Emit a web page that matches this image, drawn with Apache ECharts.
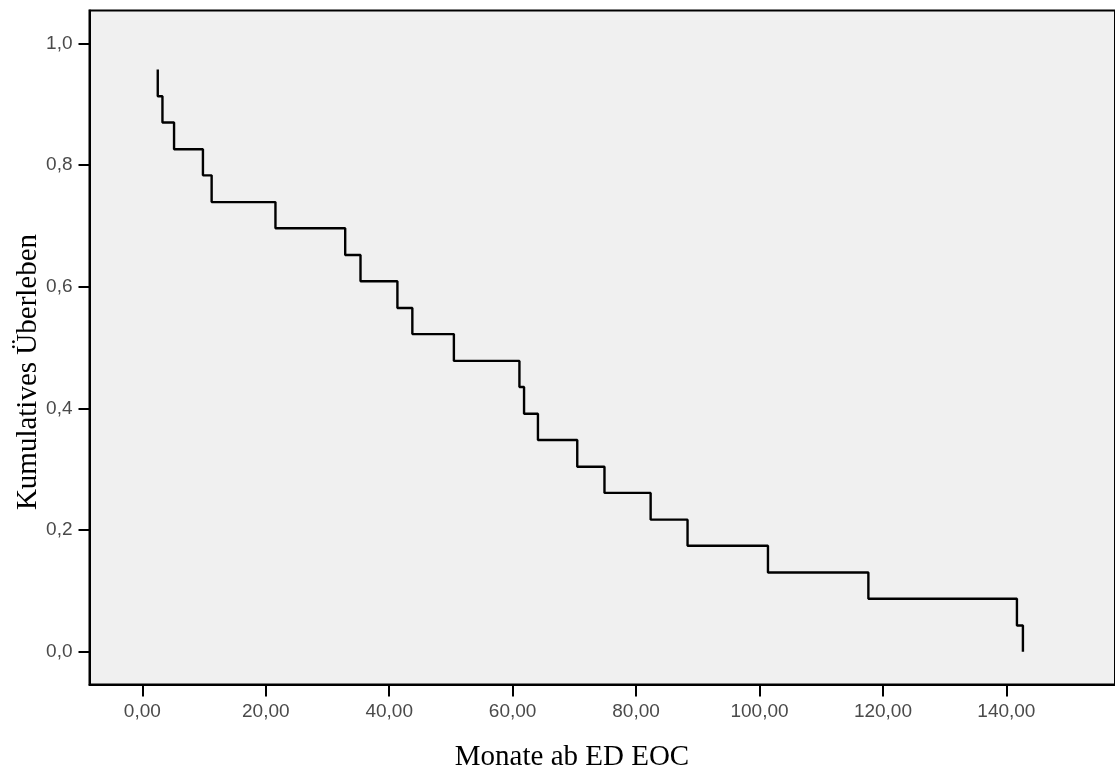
<!DOCTYPE html>
<html>
<head>
<meta charset="utf-8">
<script src="https://cdn.jsdelivr.net/npm/echarts@6/dist/echarts.min.js"></script>
<style>
html,body{margin:0;padding:0;background:#fff;}
#chart{width:1115px;height:776px;}
</style>
</head>
<body>
<div id="chart"></div>
<script>
// Kaplan-Meier event times (months) and cumulative survival values
const times = [2.50, 2.50, 3.26, 5.14, 9.82, 11.23, 21.57, 32.87, 35.35, 41.33, 43.75, 50.48, 61.10, 61.85, 64.10, 70.47, 74.88, 82.36, 88.34, 101.37, 117.64, 141.71, 142.68];
const survival = [0.957, 0.913, 0.870, 0.826, 0.783, 0.739, 0.696, 0.652, 0.609, 0.565, 0.522, 0.478, 0.435, 0.391, 0.348, 0.304, 0.261, 0.217, 0.174, 0.130, 0.087, 0.043, 0.000];
const xTicks = [0, 20, 40, 60, 80, 100, 120, 140];
const yTicks = [0, 0.2, 0.4, 0.6, 0.8, 1.0];
const xTitle = 'Monate ab ED EOC';
const yTitle = 'Kumulatives Überleben';

const seriesData = times.map((t, i) => [t, survival[i]]);

const chart = echarts.init(document.getElementById('chart'), null, {renderer: 'canvas'});
const labelStyle = {color: '#4a4a4a', fontFamily: '"Liberation Sans", Arial, sans-serif', fontSize: 19};
chart.setOption({
  animation: false,
  backgroundColor: '#fff',
  grid: {
    left: 89.5, top: 10.5, right: -3, bottom: 91.5,
    show: true, backgroundColor: '#f0f0f0', borderColor: '#000', borderWidth: 2
  },
  xAxis: {
    type: 'value', min: -8.56, max: 157.6,
    splitLine: {show: false},
    axisLine: {show: true, onZero: false, lineStyle: {color: '#000', width: 2}},
    axisTick: {show: true, length: 12, lineStyle: {color: '#000', width: 2}, customValues: xTicks},
    axisLabel: Object.assign({margin: 18, customValues: xTicks, formatter: v => v.toFixed(2).replace('.', ',')}, labelStyle)
  },
  yAxis: {
    type: 'value', min: -0.054, max: 1.054,
    splitLine: {show: false},
    axisLine: {show: true, onZero: false, lineStyle: {color: '#000', width: 2}},
    axisTick: {show: true, length: 11, lineStyle: {color: '#000', width: 2}, customValues: yTicks},
    axisLabel: Object.assign({margin: 17, customValues: yTicks, formatter: v => v.toFixed(1).replace('.', ',')}, labelStyle)
  },
  graphic: [
    {type: 'text', x: 572, y: 757, style: {text: xTitle, fill: '#000', font: '29px "Liberation Serif", "Times New Roman", serif', textAlign: 'center', textVerticalAlign: 'middle'}},
    {type: 'text', x: 28, y: 372, rotation: Math.PI / 2, style: {text: yTitle, fill: '#000', font: '29px "Liberation Serif", "Times New Roman", serif', textAlign: 'center', textVerticalAlign: 'middle'}}
  ],
  series: [{
    type: 'line', step: 'end', data: seriesData,
    showSymbol: false, symbol: 'none',
    lineStyle: {color: '#000', width: 2.4}
  }]
});
</script>
</body>
</html>
